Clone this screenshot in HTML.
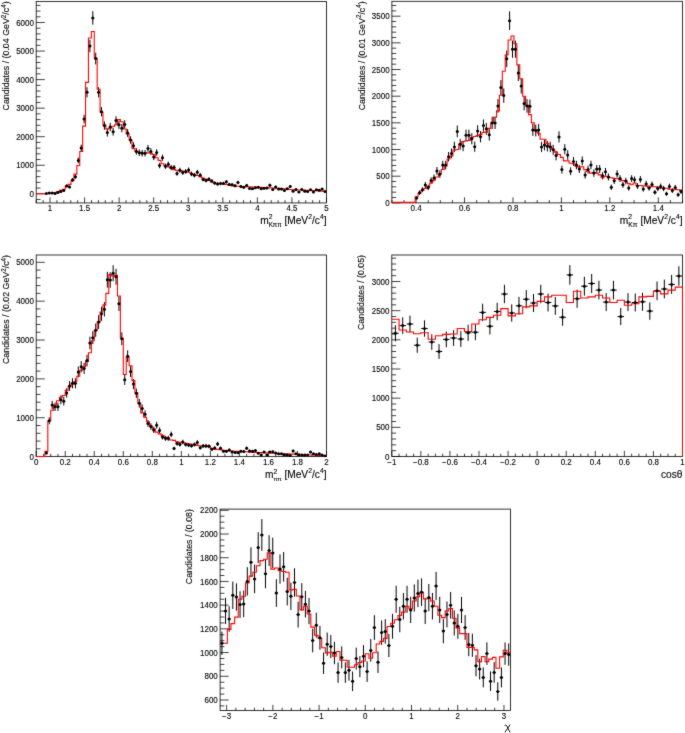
<!DOCTYPE html>
<html><head><meta charset="utf-8"><style>
html,body{margin:0;padding:0;background:#fff;width:685px;height:733px;overflow:hidden}
svg{display:block;will-change:transform}
</style></head><body><div>
<svg width="685" height="733" viewBox="0 0 685 733" font-family="Liberation Sans, sans-serif" fill="#000">
<filter id="bl" x="-1%" y="-1%" width="102%" height="102%" color-interpolation-filters="sRGB"><feConvolveMatrix order="3" kernelMatrix="0.02 0.07 0.02 0.07 0.640 0.07 0.02 0.07 0.02" edgeMode="none" preserveAlpha="false"/></filter>
<g filter="url(#bl)">
<rect x="36.20" y="1.40" width="290.30" height="201.55" fill="none" stroke="#000" stroke-width="0.8"/>
<path d="M36.20 199.51h4.3M36.20 193.80h8.6M36.20 188.09h4.3M36.20 182.38h4.3M36.20 176.67h4.3M36.20 170.96h4.3M36.20 165.25h8.6M36.20 159.54h4.3M36.20 153.83h4.3M36.20 148.12h4.3M36.20 142.41h4.3M36.20 136.70h8.6M36.20 130.99h4.3M36.20 125.28h4.3M36.20 119.57h4.3M36.20 113.86h4.3M36.20 108.15h8.6M36.20 102.44h4.3M36.20 96.73h4.3M36.20 91.02h4.3M36.20 85.31h4.3M36.20 79.60h8.6M36.20 73.89h4.3M36.20 68.18h4.3M36.20 62.47h4.3M36.20 56.76h4.3M36.20 51.05h8.6M36.20 45.34h4.3M36.20 39.63h4.3M36.20 33.92h4.3M36.20 28.21h4.3M36.20 22.50h8.6M36.20 16.79h4.3M36.20 11.08h4.3M36.20 5.37h4.3M36.20 202.95v-2.8M43.11 202.95v-2.8M50.02 202.95v-5.6M56.94 202.95v-2.8M63.85 202.95v-2.8M70.76 202.95v-2.8M77.67 202.95v-2.8M84.58 202.95v-5.6M91.50 202.95v-2.8M98.41 202.95v-2.8M105.32 202.95v-2.8M112.23 202.95v-2.8M119.14 202.95v-5.6M126.05 202.95v-2.8M132.97 202.95v-2.8M139.88 202.95v-2.8M146.79 202.95v-2.8M153.70 202.95v-5.6M160.61 202.95v-2.8M167.53 202.95v-2.8M174.44 202.95v-2.8M181.35 202.95v-2.8M188.26 202.95v-5.6M195.17 202.95v-2.8M202.09 202.95v-2.8M209.00 202.95v-2.8M215.91 202.95v-2.8M222.82 202.95v-5.6M229.73 202.95v-2.8M236.65 202.95v-2.8M243.56 202.95v-2.8M250.47 202.95v-2.8M257.38 202.95v-5.6M264.29 202.95v-2.8M271.20 202.95v-2.8M278.12 202.95v-2.8M285.03 202.95v-2.8M291.94 202.95v-5.6M298.85 202.95v-2.8M305.76 202.95v-2.8M312.68 202.95v-2.8M319.59 202.95v-2.8M326.50 202.95v-5.6" stroke="#000" stroke-width="0.75" fill="none"/>
<rect x="391.90" y="1.30" width="290.60" height="201.60" fill="none" stroke="#000" stroke-width="0.8"/>
<path d="M391.90 202.85h8.6M391.90 197.52h4.3M391.90 192.18h4.3M391.90 186.85h4.3M391.90 181.52h4.3M391.90 176.19h8.6M391.90 170.85h4.3M391.90 165.52h4.3M391.90 160.19h4.3M391.90 154.85h4.3M391.90 149.52h8.6M391.90 144.19h4.3M391.90 138.85h4.3M391.90 133.52h4.3M391.90 128.19h4.3M391.90 122.85h8.6M391.90 117.52h4.3M391.90 112.19h4.3M391.90 106.86h4.3M391.90 101.52h4.3M391.90 96.19h8.6M391.90 90.86h4.3M391.90 85.52h4.3M391.90 80.19h4.3M391.90 74.86h4.3M391.90 69.52h8.6M391.90 64.19h4.3M391.90 58.86h4.3M391.90 53.53h4.3M391.90 48.19h4.3M391.90 42.86h8.6M391.90 37.53h4.3M391.90 32.19h4.3M391.90 26.86h4.3M391.90 21.53h4.3M391.90 16.19h8.6M391.90 10.86h4.3M391.90 5.53h4.3M391.90 202.90v-2.8M404.01 202.90v-2.8M416.12 202.90v-5.6M428.22 202.90v-2.8M440.33 202.90v-2.8M452.44 202.90v-2.8M464.55 202.90v-5.6M476.66 202.90v-2.8M488.77 202.90v-2.8M500.88 202.90v-2.8M512.98 202.90v-5.6M525.09 202.90v-2.8M537.20 202.90v-2.8M549.31 202.90v-2.8M561.42 202.90v-5.6M573.53 202.90v-2.8M585.63 202.90v-2.8M597.74 202.90v-2.8M609.85 202.90v-5.6M621.96 202.90v-2.8M634.07 202.90v-2.8M646.18 202.90v-2.8M658.28 202.90v-5.6M670.39 202.90v-2.8M682.50 202.90v-2.8" stroke="#000" stroke-width="0.75" fill="none"/>
<rect x="36.20" y="255.00" width="290.30" height="201.60" fill="none" stroke="#000" stroke-width="0.8"/>
<path d="M36.20 456.60h8.6M36.20 448.83h4.3M36.20 441.06h4.3M36.20 433.28h4.3M36.20 425.51h4.3M36.20 417.74h8.6M36.20 409.97h4.3M36.20 402.20h4.3M36.20 394.42h4.3M36.20 386.65h4.3M36.20 378.88h8.6M36.20 371.11h4.3M36.20 363.34h4.3M36.20 355.56h4.3M36.20 347.79h4.3M36.20 340.02h8.6M36.20 332.25h4.3M36.20 324.48h4.3M36.20 316.70h4.3M36.20 308.93h4.3M36.20 301.16h8.6M36.20 293.39h4.3M36.20 285.62h4.3M36.20 277.84h4.3M36.20 270.07h4.3M36.20 262.30h8.6M36.20 456.60v-5.6M43.46 456.60v-2.8M50.72 456.60v-2.8M57.97 456.60v-2.8M65.23 456.60v-5.6M72.49 456.60v-2.8M79.75 456.60v-2.8M87.00 456.60v-2.8M94.26 456.60v-5.6M101.52 456.60v-2.8M108.77 456.60v-2.8M116.03 456.60v-2.8M123.29 456.60v-5.6M130.55 456.60v-2.8M137.81 456.60v-2.8M145.06 456.60v-2.8M152.32 456.60v-5.6M159.58 456.60v-2.8M166.84 456.60v-2.8M174.09 456.60v-2.8M181.35 456.60v-5.6M188.61 456.60v-2.8M195.87 456.60v-2.8M203.12 456.60v-2.8M210.38 456.60v-5.6M217.64 456.60v-2.8M224.90 456.60v-2.8M232.15 456.60v-2.8M239.41 456.60v-5.6M246.67 456.60v-2.8M253.93 456.60v-2.8M261.18 456.60v-2.8M268.44 456.60v-5.6M275.70 456.60v-2.8M282.96 456.60v-2.8M290.21 456.60v-2.8M297.47 456.60v-5.6M304.73 456.60v-2.8M311.99 456.60v-2.8M319.24 456.60v-2.8M326.50 456.60v-5.6" stroke="#000" stroke-width="0.75" fill="none"/>
<rect x="391.80" y="255.00" width="290.70" height="201.50" fill="none" stroke="#000" stroke-width="0.8"/>
<path d="M391.80 456.50h8.6M391.80 450.67h4.3M391.80 444.83h4.3M391.80 439.00h4.3M391.80 433.17h4.3M391.80 427.33h8.6M391.80 421.50h4.3M391.80 415.67h4.3M391.80 409.84h4.3M391.80 404.00h4.3M391.80 398.17h8.6M391.80 392.34h4.3M391.80 386.50h4.3M391.80 380.67h4.3M391.80 374.84h4.3M391.80 369.00h8.6M391.80 363.17h4.3M391.80 357.34h4.3M391.80 351.51h4.3M391.80 345.67h4.3M391.80 339.84h8.6M391.80 334.01h4.3M391.80 328.17h4.3M391.80 322.34h4.3M391.80 316.51h4.3M391.80 310.68h8.6M391.80 304.84h4.3M391.80 299.01h4.3M391.80 293.18h4.3M391.80 287.34h4.3M391.80 281.51h8.6M391.80 275.68h4.3M391.80 269.84h4.3M391.80 264.01h4.3M391.80 258.18h4.3M391.80 456.50v-5.6M399.07 456.50v-2.8M406.34 456.50v-2.8M413.60 456.50v-2.8M420.87 456.50v-5.6M428.14 456.50v-2.8M435.41 456.50v-2.8M442.67 456.50v-2.8M449.94 456.50v-5.6M457.21 456.50v-2.8M464.48 456.50v-2.8M471.74 456.50v-2.8M479.01 456.50v-5.6M486.28 456.50v-2.8M493.55 456.50v-2.8M500.81 456.50v-2.8M508.08 456.50v-5.6M515.35 456.50v-2.8M522.62 456.50v-2.8M529.88 456.50v-2.8M537.15 456.50v-5.6M544.42 456.50v-2.8M551.69 456.50v-2.8M558.95 456.50v-2.8M566.22 456.50v-5.6M573.49 456.50v-2.8M580.76 456.50v-2.8M588.02 456.50v-2.8M595.29 456.50v-5.6M602.56 456.50v-2.8M609.83 456.50v-2.8M617.09 456.50v-2.8M624.36 456.50v-5.6M631.63 456.50v-2.8M638.90 456.50v-2.8M646.16 456.50v-2.8M653.43 456.50v-5.6M660.70 456.50v-2.8M667.97 456.50v-2.8M675.23 456.50v-2.8M682.50 456.50v-5.6" stroke="#000" stroke-width="0.75" fill="none"/>
<rect x="220.10" y="509.10" width="290.40" height="201.40" fill="none" stroke="#000" stroke-width="0.8"/>
<path d="M220.10 705.92h4.3M220.10 700.00h8.6M220.10 694.07h4.3M220.10 688.14h4.3M220.10 682.21h4.3M220.10 676.28h8.6M220.10 670.36h4.3M220.10 664.43h4.3M220.10 658.50h4.3M220.10 652.57h8.6M220.10 646.64h4.3M220.10 640.72h4.3M220.10 634.79h4.3M220.10 628.86h8.6M220.10 622.93h4.3M220.10 617.00h4.3M220.10 611.08h4.3M220.10 605.15h8.6M220.10 599.22h4.3M220.10 593.29h4.3M220.10 587.36h4.3M220.10 581.44h8.6M220.10 575.51h4.3M220.10 569.58h4.3M220.10 563.65h4.3M220.10 557.72h8.6M220.10 551.80h4.3M220.10 545.87h4.3M220.10 539.94h4.3M220.10 534.01h8.6M220.10 528.08h4.3M220.10 522.16h4.3M220.10 516.23h4.3M220.10 510.30h8.6M226.64 710.50v-5.6M235.89 710.50v-2.8M245.13 710.50v-2.8M254.38 710.50v-2.8M263.62 710.50v-2.8M272.86 710.50v-5.6M282.11 710.50v-2.8M291.35 710.50v-2.8M300.59 710.50v-2.8M309.84 710.50v-2.8M319.08 710.50v-5.6M328.33 710.50v-2.8M337.57 710.50v-2.8M346.81 710.50v-2.8M356.06 710.50v-2.8M365.30 710.50v-5.6M374.54 710.50v-2.8M383.79 710.50v-2.8M393.03 710.50v-2.8M402.27 710.50v-2.8M411.52 710.50v-5.6M420.76 710.50v-2.8M430.01 710.50v-2.8M439.25 710.50v-2.8M448.49 710.50v-2.8M457.74 710.50v-5.6M466.98 710.50v-2.8M476.22 710.50v-2.8M485.47 710.50v-2.8M494.71 710.50v-2.8M503.96 710.50v-5.6" stroke="#000" stroke-width="0.75" fill="none"/>
<clipPath id="c1"><rect x="35.20" y="1.40" width="292.30" height="202.15"/></clipPath>
<g clip-path="url(#c1)">
<path d="M46.36 193.22V193.78M45.05 193.50H47.67M49.26 192.55V193.45M47.96 193.00H50.57M52.17 192.55V193.45M50.86 193.00H53.47M55.07 193.22V193.78M53.76 193.50H56.38M57.97 192.04V193.16M56.67 192.60H59.28M60.88 190.85V192.35M59.57 191.60H62.18M63.78 189.69V191.51M62.47 190.60H65.08M66.68 184.48V187.32M65.38 185.90H67.99M69.58 185.68V188.32M68.28 187.00H70.89M72.49 178.01V181.79M71.18 179.90H73.79M75.39 174.71V178.89M74.08 176.80H76.70M78.29 157.47V163.33M76.99 160.40H79.60M81.20 144.67V151.53M79.89 148.10H82.50M84.10 114.72V123.48M82.79 119.10H85.41M87.00 87.19V97.41M85.70 92.30H88.31M89.91 39.84V52.16M88.60 46.00H91.21M92.81 11.18V24.62M91.50 17.90H94.11M95.71 52.71V64.49M94.41 58.60H97.02M98.61 87.19V97.41M97.31 92.30H99.92M101.52 107.11V116.29M100.21 111.70H102.82M104.42 121.41V129.79M103.11 125.60H105.73M107.32 128.63V136.57M106.02 132.60H108.63M110.23 122.75V131.05M108.92 126.90H111.53M113.13 127.71V135.69M111.82 131.70H114.44M116.03 116.26V124.94M114.73 120.60H117.34M118.94 120.49V128.91M117.63 124.70H120.24M121.84 124.09V132.31M120.53 128.20H123.14M124.74 120.18V128.62M123.44 124.40H126.05M127.64 129.05V136.95M126.34 133.00H128.95M130.55 136.28V143.72M129.24 140.00H131.85M133.45 142.18V149.22M132.14 145.70H134.76M136.35 148.10V154.70M135.05 151.40H137.66M139.26 149.45V155.95M137.95 152.70H140.56M142.16 149.97V156.43M140.85 153.20H143.47M145.06 149.97V156.43M143.76 153.20H146.37M147.97 144.98V151.82M146.66 148.40H149.27M150.87 148.20V154.80M149.56 151.50H152.17M153.77 153.92V160.08M152.47 157.00H155.08M156.67 149.24V155.76M155.37 152.50H157.98M159.58 162.91V168.29M158.27 165.60H160.88M162.48 154.65V160.75M161.17 157.70H163.79M165.38 163.64V168.96M164.08 166.30H166.69M168.29 161.55V167.05M166.98 164.30H169.59M171.19 165.01V170.19M169.88 167.60H172.50M174.09 165.01V170.19M172.79 167.60H175.40M177.00 171.22V175.78M175.69 173.50H178.30M179.90 167.74V172.66M178.59 170.20H181.20M182.80 170.27V174.93M181.50 172.60H184.11M185.70 169.11V173.89M184.40 171.50H187.01M188.61 167.53V172.47M187.30 170.00H189.91M191.51 171.64V176.16M190.20 173.90H192.82M194.41 173.01V177.39M193.11 175.20H195.72M197.32 169.84V174.56M196.01 172.20H198.62M200.22 173.01V177.39M198.91 175.20H201.53M203.12 177.48V181.32M201.82 179.40H204.43M206.03 178.65V182.35M204.72 180.50H207.33M208.93 177.26V181.14M207.62 179.20H210.23M211.83 179.19V182.81M210.53 181.00H213.14M214.73 181.44V184.76M213.43 183.10H216.04M217.64 182.41V185.59M216.33 184.00H218.94M220.54 181.98V185.22M219.23 183.60H221.85M223.44 181.77V185.03M222.14 183.40H224.75M226.35 180.04V183.56M225.04 181.80H227.65M229.25 182.85V185.95M227.94 184.40H230.56M232.15 183.17V186.23M230.85 184.70H233.46M235.06 184.26V187.14M233.75 185.70H236.36M237.96 180.80V184.20M236.65 182.50H239.26M240.86 185.02V187.78M239.56 186.40H242.17M243.76 186.01V188.59M242.46 187.30H245.07M246.67 183.93V186.87M245.36 185.40H247.97M249.57 187.22V189.58M248.26 188.40H250.88M252.47 187.56V189.84M251.17 188.70H253.78M255.38 186.45V188.95M254.07 187.70H256.68M258.28 186.01V188.59M256.97 187.30H259.59M261.18 187.56V189.84M259.88 188.70H262.49M264.09 187.11V189.49M262.78 188.30H265.39M266.99 186.78V189.22M265.68 188.00H268.29M269.89 183.71V186.69M268.59 185.20H271.20M272.79 188.45V190.55M271.49 189.50H274.10M275.70 185.68V188.32M274.39 187.00H277.00M278.60 188.00V190.20M277.29 189.10H279.91M281.50 188.00V190.20M280.20 189.10H282.81M284.41 189.58V191.42M283.10 190.50H285.71M287.31 187.67V189.93M286.00 188.80H288.62M290.21 185.02V187.78M288.91 186.40H291.52M293.12 190.38V192.02M291.81 191.20H294.42M296.02 188.34V190.46M294.71 189.40H297.32M298.92 191.20V192.60M297.62 191.90H300.23M301.82 188.45V190.55M300.52 189.50H303.13M304.73 190.38V192.02M303.42 191.20H306.03M307.63 190.85V192.35M306.32 191.60H308.94M310.53 188.79V190.81M309.23 189.80H311.84M313.44 191.20V192.60M312.13 191.90H314.74M316.34 188.79V190.81M315.03 189.80H317.65M319.24 189.24V191.16M317.94 190.20H320.55M322.15 188.00V190.20M320.84 189.10H323.45M325.05 190.85V192.35M323.74 191.60H326.35" stroke="#000" stroke-width="1.0" fill="none"/>
<path d="M36.20 193.80H39.10V193.80H42.01V193.80H44.91V193.50H47.81V193.30H50.72V193.00H53.62V192.50H56.52V191.60H59.42V190.20H62.33V189.20H65.23V186.40H68.13V184.40H71.04V180.60H73.94V174.10H76.84V165.50H79.75V151.50H82.65V126.10H85.55V82.40H88.45V38.00H91.36V31.50H94.26V58.30H97.16V89.30H100.07V112.20H102.97V125.10H105.87V128.90H108.78V128.00H111.68V126.30H114.58V124.70H117.48V119.50H120.39V121.80H123.29V129.00H126.19V133.90H129.10V140.00H132.00V148.40H134.90V151.40H137.81V152.30H140.71V153.00H143.61V153.00H146.51V152.90H149.42V153.30H152.32V154.50H155.22V157.70H158.13V160.40H161.03V163.70H163.93V165.60H166.83V166.90H169.74V168.20H172.64V169.60H175.54V170.20H178.45V170.70H181.35V171.20H184.25V171.70H187.16V172.20H190.06V173.50H192.96V174.50H195.87V175.50H198.77V176.80H201.67V178.30H204.57V179.40H207.48V180.50H210.38V182.00H213.28V183.20H216.19V183.40H219.09V183.40H221.99V183.80H224.89V184.50H227.80V185.30H230.70V185.70H233.60V186.10H236.51V186.30H239.41V186.44H242.31V186.58H245.22V186.72H248.12V186.86H251.02V187.00H253.93V187.14H256.83V187.28H259.73V187.42H262.63V187.56H265.54V187.70H268.44V187.88H271.34V188.05H274.25V188.22H277.15V188.40H280.05V188.63H282.95V188.87H285.86V189.10H288.76V189.45H291.66V189.80H294.57V189.88H297.47V189.96H300.37V190.04H303.28V190.12H306.18V190.20H309.08V190.40H311.99V190.60H314.89V190.80H317.79V190.97H320.69V191.13H323.60V191.30H326.50" stroke="#f00" stroke-width="1.1" fill="none"/>
<circle cx="46.36" cy="193.50" r="1.5"/>
<circle cx="49.26" cy="193.00" r="1.5"/>
<circle cx="52.17" cy="193.00" r="1.5"/>
<circle cx="55.07" cy="193.50" r="1.5"/>
<circle cx="57.97" cy="192.60" r="1.5"/>
<circle cx="60.88" cy="191.60" r="1.5"/>
<circle cx="63.78" cy="190.60" r="1.5"/>
<circle cx="66.68" cy="185.90" r="1.5"/>
<circle cx="69.58" cy="187.00" r="1.5"/>
<circle cx="72.49" cy="179.90" r="1.5"/>
<circle cx="75.39" cy="176.80" r="1.5"/>
<circle cx="78.29" cy="160.40" r="1.5"/>
<circle cx="81.20" cy="148.10" r="1.5"/>
<circle cx="84.10" cy="119.10" r="1.5"/>
<circle cx="87.00" cy="92.30" r="1.5"/>
<circle cx="89.91" cy="46.00" r="1.5"/>
<circle cx="92.81" cy="17.90" r="1.5"/>
<circle cx="95.71" cy="58.60" r="1.5"/>
<circle cx="98.61" cy="92.30" r="1.5"/>
<circle cx="101.52" cy="111.70" r="1.5"/>
<circle cx="104.42" cy="125.60" r="1.5"/>
<circle cx="107.32" cy="132.60" r="1.5"/>
<circle cx="110.23" cy="126.90" r="1.5"/>
<circle cx="113.13" cy="131.70" r="1.5"/>
<circle cx="116.03" cy="120.60" r="1.5"/>
<circle cx="118.94" cy="124.70" r="1.5"/>
<circle cx="121.84" cy="128.20" r="1.5"/>
<circle cx="124.74" cy="124.40" r="1.5"/>
<circle cx="127.64" cy="133.00" r="1.5"/>
<circle cx="130.55" cy="140.00" r="1.5"/>
<circle cx="133.45" cy="145.70" r="1.5"/>
<circle cx="136.35" cy="151.40" r="1.5"/>
<circle cx="139.26" cy="152.70" r="1.5"/>
<circle cx="142.16" cy="153.20" r="1.5"/>
<circle cx="145.06" cy="153.20" r="1.5"/>
<circle cx="147.97" cy="148.40" r="1.5"/>
<circle cx="150.87" cy="151.50" r="1.5"/>
<circle cx="153.77" cy="157.00" r="1.5"/>
<circle cx="156.67" cy="152.50" r="1.5"/>
<circle cx="159.58" cy="165.60" r="1.5"/>
<circle cx="162.48" cy="157.70" r="1.5"/>
<circle cx="165.38" cy="166.30" r="1.5"/>
<circle cx="168.29" cy="164.30" r="1.5"/>
<circle cx="171.19" cy="167.60" r="1.5"/>
<circle cx="174.09" cy="167.60" r="1.5"/>
<circle cx="177.00" cy="173.50" r="1.5"/>
<circle cx="179.90" cy="170.20" r="1.5"/>
<circle cx="182.80" cy="172.60" r="1.5"/>
<circle cx="185.70" cy="171.50" r="1.5"/>
<circle cx="188.61" cy="170.00" r="1.5"/>
<circle cx="191.51" cy="173.90" r="1.5"/>
<circle cx="194.41" cy="175.20" r="1.5"/>
<circle cx="197.32" cy="172.20" r="1.5"/>
<circle cx="200.22" cy="175.20" r="1.5"/>
<circle cx="203.12" cy="179.40" r="1.5"/>
<circle cx="206.03" cy="180.50" r="1.5"/>
<circle cx="208.93" cy="179.20" r="1.5"/>
<circle cx="211.83" cy="181.00" r="1.5"/>
<circle cx="214.73" cy="183.10" r="1.5"/>
<circle cx="217.64" cy="184.00" r="1.5"/>
<circle cx="220.54" cy="183.60" r="1.5"/>
<circle cx="223.44" cy="183.40" r="1.5"/>
<circle cx="226.35" cy="181.80" r="1.5"/>
<circle cx="229.25" cy="184.40" r="1.5"/>
<circle cx="232.15" cy="184.70" r="1.5"/>
<circle cx="235.06" cy="185.70" r="1.5"/>
<circle cx="237.96" cy="182.50" r="1.5"/>
<circle cx="240.86" cy="186.40" r="1.5"/>
<circle cx="243.76" cy="187.30" r="1.5"/>
<circle cx="246.67" cy="185.40" r="1.5"/>
<circle cx="249.57" cy="188.40" r="1.5"/>
<circle cx="252.47" cy="188.70" r="1.5"/>
<circle cx="255.38" cy="187.70" r="1.5"/>
<circle cx="258.28" cy="187.30" r="1.5"/>
<circle cx="261.18" cy="188.70" r="1.5"/>
<circle cx="264.09" cy="188.30" r="1.5"/>
<circle cx="266.99" cy="188.00" r="1.5"/>
<circle cx="269.89" cy="185.20" r="1.5"/>
<circle cx="272.79" cy="189.50" r="1.5"/>
<circle cx="275.70" cy="187.00" r="1.5"/>
<circle cx="278.60" cy="189.10" r="1.5"/>
<circle cx="281.50" cy="189.10" r="1.5"/>
<circle cx="284.41" cy="190.50" r="1.5"/>
<circle cx="287.31" cy="188.80" r="1.5"/>
<circle cx="290.21" cy="186.40" r="1.5"/>
<circle cx="293.12" cy="191.20" r="1.5"/>
<circle cx="296.02" cy="189.40" r="1.5"/>
<circle cx="298.92" cy="191.90" r="1.5"/>
<circle cx="301.82" cy="189.50" r="1.5"/>
<circle cx="304.73" cy="191.20" r="1.5"/>
<circle cx="307.63" cy="191.60" r="1.5"/>
<circle cx="310.53" cy="189.80" r="1.5"/>
<circle cx="313.44" cy="191.90" r="1.5"/>
<circle cx="316.34" cy="189.80" r="1.5"/>
<circle cx="319.24" cy="190.20" r="1.5"/>
<circle cx="322.15" cy="189.10" r="1.5"/>
<circle cx="325.05" cy="191.60" r="1.5"/>
</g>
<clipPath id="c2"><rect x="390.90" y="1.30" width="292.60" height="202.20"/></clipPath>
<g clip-path="url(#c2)">
<path d="M416.60 196.36V199.44M415.29 197.90H417.91M419.51 190.49V194.91M418.20 192.70H420.81M422.41 187.19V192.21M421.11 189.70H423.72M425.32 181.96V187.84M424.01 184.90H426.63M428.22 184.79V190.21M426.92 187.50H429.53M431.13 177.33V183.87M429.82 180.60H432.44M434.04 174.55V181.45M432.73 178.00H435.34M436.94 166.98V174.82M435.64 170.90H438.25M439.85 170.49V177.91M438.54 174.20H441.16M442.75 160.84V169.36M441.45 165.10H444.06M445.66 160.84V169.36M444.35 165.10H446.97M448.57 151.99V161.41M447.26 156.70H449.87M451.47 148.53V158.27M450.17 153.40H452.78M454.38 141.72V152.08M453.07 146.90H455.69M457.28 125.54V137.26M455.98 131.40H458.59M460.19 139.00V149.60M458.88 144.30H461.50M463.10 140.78V151.22M461.79 146.00H464.40M466.00 129.61V140.99M464.70 135.30H467.31M468.91 129.61V140.99M467.60 135.30H470.22M471.81 133.26V144.34M470.51 138.80H473.12M474.72 141.51V151.89M473.41 146.70H476.03M477.63 125.23V136.97M476.32 131.10H478.93M480.53 131.07V142.33M479.23 136.70H481.84M483.44 119.51V131.69M482.13 125.60H484.75M486.34 122.84V134.76M485.04 128.80H487.65M489.25 129.08V140.52M487.94 134.80H490.56M492.16 116.71V129.09M490.85 122.90H493.46M495.06 116.71V129.09M493.76 122.90H496.37M497.97 99.08V112.72M496.66 105.90H499.28M500.88 80.06V94.94M499.57 87.50H502.18M503.78 88.43V102.77M502.47 95.60H505.09M506.69 50.48V67.12M505.38 58.80H507.99M509.59 11.35V30.05M508.29 20.70H510.90M512.50 40.61V57.79M511.19 49.20H513.81M515.40 40.61V57.79M514.10 49.20H516.71M518.31 65.21V80.99M517.00 73.10H519.62M521.22 78.51V93.49M519.91 86.00H522.52M524.12 96.59V110.41M522.82 103.50H525.43M527.03 99.08V112.72M525.72 105.90H528.34M529.93 99.49V113.11M528.63 106.30H531.24M532.84 123.98V135.82M531.53 129.90H534.15M535.75 124.61V136.39M534.44 130.50H537.05M538.65 123.98V135.82M537.35 129.90H539.96M541.56 141.72V152.08M540.25 146.90H542.87M544.46 139.84V150.36M543.16 145.10H545.77M547.37 141.09V151.51M546.06 146.30H548.68M550.28 141.72V152.08M548.97 146.90H551.58M553.18 144.75V154.85M551.88 149.80H554.49M556.09 150.84V160.36M554.78 155.60H557.40M559.00 131.27V142.53M557.69 136.90H560.30M561.90 165.61V173.59M560.59 169.60H563.21M564.81 144.13V154.27M563.50 149.20H566.11M567.71 150.21V159.79M566.41 155.00H569.02M570.62 167.30V175.10M569.31 171.20H571.93M573.52 157.05V165.95M572.22 161.50H574.83M576.43 160.74V169.26M575.12 165.00H577.74M579.34 164.97V173.03M578.03 169.00H580.64M582.24 156.41V165.39M580.94 160.90H583.55M585.15 171.24V178.56M583.84 174.90H586.46M588.05 165.61V173.59M586.75 169.60H589.36M590.96 160.74V169.26M589.65 165.00H592.27M593.87 169.32V176.88M592.56 173.10H595.17M596.77 164.97V173.03M595.47 169.00H598.08M599.68 164.97V173.03M598.37 169.00H600.99M602.59 172.20V179.40M601.28 175.80H603.89M605.49 167.94V175.66M604.18 171.80H606.80M608.40 173.48V180.52M607.09 177.00H609.70M611.30 184.57V190.03M610.00 187.30H612.61M614.21 177.55V184.05M612.90 180.80H615.52M617.12 170.17V177.63M615.81 173.90H618.42M620.02 175.19V182.01M618.71 178.60H621.33M622.93 181.86V187.74M621.62 184.80H624.23M625.83 177.76V184.24M624.53 181.00H627.14M628.74 185.33V190.67M627.43 188.00H630.05M631.64 175.19V182.01M630.34 178.60H632.95M634.55 176.47V183.13M633.24 179.80H635.86M637.46 183.16V188.84M636.15 186.00H638.76M640.36 176.05V182.75M639.06 179.40H641.67M643.27 186.53V191.67M641.96 189.10H644.58M646.17 180.88V186.92M644.87 183.90H647.48M649.08 185.33V190.67M647.77 188.00H650.39M651.99 181.53V187.47M650.68 184.50H653.29M654.89 190.05V194.55M653.59 192.30H656.20M657.80 185.88V191.12M656.49 188.50H659.11M660.70 183.59V189.21M659.40 186.40H662.01M663.61 185.88V191.12M662.30 188.50H664.92M666.52 191.72V195.88M665.21 193.80H667.82M669.42 183.59V189.21M668.12 186.40H670.73M672.33 188.18V193.02M671.02 190.60H673.64M675.24 184.89V190.31M673.93 187.60H676.54M678.14 192.72V196.68M676.83 194.70H679.45M681.05 189.17V193.83M679.74 191.50H682.35" stroke="#000" stroke-width="1.0" fill="none"/>
<path d="M391.90 202.40H394.81V202.40H397.71V202.40H400.62V202.40H403.52V202.40H406.43V202.40H409.34V202.40H412.24V202.40H415.15V196.80H418.05V193.50H420.96V190.50H423.87V188.50H426.77V186.50H429.68V183.00H432.58V180.00H435.49V177.00H438.40V173.50H441.30V169.50H444.21V166.00H447.11V159.00H450.02V156.00H452.93V150.00H455.83V149.50H458.74V144.00H461.64V141.50H464.55V141.00H467.46V140.50H470.36V137.60H473.27V136.50H476.17V135.50H479.08V134.50H481.99V132.50H484.89V132.10H487.80V128.40H490.70V122.90H493.61V117.30H496.52V110.90H499.42V95.20H502.33V71.30H505.23V54.70H508.14V40.00H511.05V36.00H513.95V43.70H516.86V64.90H519.76V78.70H522.67V96.20H525.58V105.40H528.48V114.60H531.39V122.90H534.29V130.20H537.20V133.20H540.11V139.30H543.01V139.30H545.92V143.40H548.82V146.30H551.73V149.20H554.64V152.10H557.54V154.50H560.45V157.40H563.35V160.90H566.26V160.90H569.17V163.20H572.07V163.80H574.98V166.10H577.88V167.30H580.79V166.70H583.70V169.60H586.60V171.40H589.51V173.10H592.41V172.60H595.32V173.10H598.23V174.90H601.13V177.80H604.04V176.30H606.94V177.00H609.85V177.80H612.76V178.50H615.66V178.80H618.57V179.60H621.47V180.60H624.38V181.00H627.29V183.60H630.19V184.80H633.10V183.00H636.00V185.50H638.91V185.50H641.82V185.90H644.72V186.00H647.63V187.40H650.53V186.20H653.44V186.80H656.35V187.50H659.25V188.00H662.16V188.00H665.06V188.20H667.97V189.20H670.88V189.20H673.78V189.20H676.69V189.70H679.59V190.50H682.50" stroke="#f00" stroke-width="1.1" fill="none"/>
<circle cx="416.60" cy="197.90" r="1.5"/>
<circle cx="419.51" cy="192.70" r="1.5"/>
<circle cx="422.41" cy="189.70" r="1.5"/>
<circle cx="425.32" cy="184.90" r="1.5"/>
<circle cx="428.22" cy="187.50" r="1.5"/>
<circle cx="431.13" cy="180.60" r="1.5"/>
<circle cx="434.04" cy="178.00" r="1.5"/>
<circle cx="436.94" cy="170.90" r="1.5"/>
<circle cx="439.85" cy="174.20" r="1.5"/>
<circle cx="442.75" cy="165.10" r="1.5"/>
<circle cx="445.66" cy="165.10" r="1.5"/>
<circle cx="448.57" cy="156.70" r="1.5"/>
<circle cx="451.47" cy="153.40" r="1.5"/>
<circle cx="454.38" cy="146.90" r="1.5"/>
<circle cx="457.28" cy="131.40" r="1.5"/>
<circle cx="460.19" cy="144.30" r="1.5"/>
<circle cx="463.10" cy="146.00" r="1.5"/>
<circle cx="466.00" cy="135.30" r="1.5"/>
<circle cx="468.91" cy="135.30" r="1.5"/>
<circle cx="471.81" cy="138.80" r="1.5"/>
<circle cx="474.72" cy="146.70" r="1.5"/>
<circle cx="477.63" cy="131.10" r="1.5"/>
<circle cx="480.53" cy="136.70" r="1.5"/>
<circle cx="483.44" cy="125.60" r="1.5"/>
<circle cx="486.34" cy="128.80" r="1.5"/>
<circle cx="489.25" cy="134.80" r="1.5"/>
<circle cx="492.16" cy="122.90" r="1.5"/>
<circle cx="495.06" cy="122.90" r="1.5"/>
<circle cx="497.97" cy="105.90" r="1.5"/>
<circle cx="500.88" cy="87.50" r="1.5"/>
<circle cx="503.78" cy="95.60" r="1.5"/>
<circle cx="506.69" cy="58.80" r="1.5"/>
<circle cx="509.59" cy="20.70" r="1.5"/>
<circle cx="512.50" cy="49.20" r="1.5"/>
<circle cx="515.40" cy="49.20" r="1.5"/>
<circle cx="518.31" cy="73.10" r="1.5"/>
<circle cx="521.22" cy="86.00" r="1.5"/>
<circle cx="524.12" cy="103.50" r="1.5"/>
<circle cx="527.03" cy="105.90" r="1.5"/>
<circle cx="529.93" cy="106.30" r="1.5"/>
<circle cx="532.84" cy="129.90" r="1.5"/>
<circle cx="535.75" cy="130.50" r="1.5"/>
<circle cx="538.65" cy="129.90" r="1.5"/>
<circle cx="541.56" cy="146.90" r="1.5"/>
<circle cx="544.46" cy="145.10" r="1.5"/>
<circle cx="547.37" cy="146.30" r="1.5"/>
<circle cx="550.28" cy="146.90" r="1.5"/>
<circle cx="553.18" cy="149.80" r="1.5"/>
<circle cx="556.09" cy="155.60" r="1.5"/>
<circle cx="559.00" cy="136.90" r="1.5"/>
<circle cx="561.90" cy="169.60" r="1.5"/>
<circle cx="564.81" cy="149.20" r="1.5"/>
<circle cx="567.71" cy="155.00" r="1.5"/>
<circle cx="570.62" cy="171.20" r="1.5"/>
<circle cx="573.52" cy="161.50" r="1.5"/>
<circle cx="576.43" cy="165.00" r="1.5"/>
<circle cx="579.34" cy="169.00" r="1.5"/>
<circle cx="582.24" cy="160.90" r="1.5"/>
<circle cx="585.15" cy="174.90" r="1.5"/>
<circle cx="588.05" cy="169.60" r="1.5"/>
<circle cx="590.96" cy="165.00" r="1.5"/>
<circle cx="593.87" cy="173.10" r="1.5"/>
<circle cx="596.77" cy="169.00" r="1.5"/>
<circle cx="599.68" cy="169.00" r="1.5"/>
<circle cx="602.59" cy="175.80" r="1.5"/>
<circle cx="605.49" cy="171.80" r="1.5"/>
<circle cx="608.40" cy="177.00" r="1.5"/>
<circle cx="611.30" cy="187.30" r="1.5"/>
<circle cx="614.21" cy="180.80" r="1.5"/>
<circle cx="617.12" cy="173.90" r="1.5"/>
<circle cx="620.02" cy="178.60" r="1.5"/>
<circle cx="622.93" cy="184.80" r="1.5"/>
<circle cx="625.83" cy="181.00" r="1.5"/>
<circle cx="628.74" cy="188.00" r="1.5"/>
<circle cx="631.64" cy="178.60" r="1.5"/>
<circle cx="634.55" cy="179.80" r="1.5"/>
<circle cx="637.46" cy="186.00" r="1.5"/>
<circle cx="640.36" cy="179.40" r="1.5"/>
<circle cx="643.27" cy="189.10" r="1.5"/>
<circle cx="646.17" cy="183.90" r="1.5"/>
<circle cx="649.08" cy="188.00" r="1.5"/>
<circle cx="651.99" cy="184.50" r="1.5"/>
<circle cx="654.89" cy="192.30" r="1.5"/>
<circle cx="657.80" cy="188.50" r="1.5"/>
<circle cx="660.70" cy="186.40" r="1.5"/>
<circle cx="663.61" cy="188.50" r="1.5"/>
<circle cx="666.52" cy="193.80" r="1.5"/>
<circle cx="669.42" cy="186.40" r="1.5"/>
<circle cx="672.33" cy="190.60" r="1.5"/>
<circle cx="675.24" cy="187.60" r="1.5"/>
<circle cx="678.14" cy="194.70" r="1.5"/>
<circle cx="681.05" cy="191.50" r="1.5"/>
</g>
<clipPath id="c3"><rect x="35.20" y="255.00" width="292.30" height="202.20"/></clipPath>
<g clip-path="url(#c3)">
<path d="M46.36 451.99V454.21M45.05 453.10H47.67M49.26 417.26V424.34M47.96 420.80H50.57M52.17 400.86V409.34M50.86 405.10H53.47M55.07 402.63V410.97M53.76 406.80H56.38M57.97 402.63V410.97M56.67 406.80H59.28M60.88 395.34V404.26M59.57 399.80H62.18M63.78 396.80V405.60M62.47 401.20H65.08M66.68 388.18V397.62M65.38 392.90H67.99M69.58 380.93V390.87M68.28 385.90H70.89M72.49 378.24V388.36M71.18 383.30H73.79M75.39 378.24V388.36M74.08 383.30H76.70M78.29 366.46V377.34M76.99 371.90H79.60M81.20 361.09V372.31M79.89 366.70H82.50M84.10 362.85V373.95M82.79 368.40H85.41M87.00 354.81V366.39M85.70 360.60H88.31M89.91 336.70V349.30M88.60 343.00H91.21M92.81 331.25V344.15M91.50 337.70H94.11M95.71 323.55V336.85M94.41 330.20H97.02M98.61 315.24V328.96M97.31 322.10H99.92M101.52 306.73V320.87M100.21 313.80H102.82M104.42 302.12V316.48M103.11 309.30H105.73M107.32 271.83V287.57M106.02 279.70H108.63M110.23 272.14V287.86M108.92 280.00H111.53M113.13 265.19V281.21M111.82 273.20H114.44M116.03 268.87V284.73M114.73 276.80H117.34M118.94 296.39V311.01M117.63 303.70H120.24M121.84 332.28V345.12M120.53 338.70H123.14M124.74 374.62V384.98M123.44 379.80H126.05M127.64 350.27V362.13M126.34 356.20H128.95M130.55 366.15V377.05M129.24 371.60H131.85M133.45 379.06V389.14M132.14 384.10H134.76M136.35 388.49V397.91M135.05 393.20H137.66M139.26 398.98V407.62M137.95 403.30H140.56M142.16 404.50V412.70M140.85 408.60H143.47M145.06 410.35V418.05M143.76 414.20H146.37M147.97 419.99V426.81M146.66 423.40H149.27M150.87 423.36V429.84M149.56 426.60H152.17M153.77 426.84V432.96M152.47 429.90H155.08M156.67 421.89V428.51M155.37 425.20H157.98M159.58 427.37V433.43M158.27 430.40H160.88M162.48 434.28V439.52M161.17 436.90H163.79M165.38 435.77V440.83M164.08 438.30H166.69M168.29 435.77V440.83M166.98 438.30H169.59M171.19 431.61V437.19M169.88 434.40H172.50M174.09 446.71V450.09M172.79 448.40H175.40M177.00 441.36V445.64M175.69 443.50H178.30M179.90 442.33V446.47M178.59 444.40H181.20M182.80 439.74V444.26M181.50 442.00H184.11M185.70 442.44V446.56M184.40 444.50H187.01M188.61 443.09V447.11M187.30 445.10H189.91M191.51 443.75V447.65M190.20 445.70H192.82M194.41 442.44V446.56M193.11 444.50H195.72M197.32 440.17V444.63M196.01 442.40H198.62M200.22 446.05V449.55M198.91 447.80H201.53M203.12 443.97V447.83M201.82 445.90H204.43M206.03 443.97V447.83M204.72 445.90H207.33M208.93 444.40V448.20M207.62 446.30H210.23M211.83 447.59V450.81M210.53 449.20H213.14M214.73 446.27V449.73M213.43 448.00H216.04M217.64 441.79V446.01M216.33 443.90H218.94M220.54 446.60V450.00M219.23 448.30H221.85M223.44 449.94V452.66M222.14 451.30H224.75M226.35 449.94V452.66M225.04 451.30H227.65M229.25 448.59V451.61M227.94 450.10H230.56M232.15 450.85V453.35M230.85 452.10H233.46M235.06 451.30V453.70M233.75 452.50H236.36M237.96 451.53V453.87M236.65 452.70H239.26M240.86 449.94V452.66M239.56 451.30H242.17M243.76 450.16V452.84M242.46 451.50H245.07M246.67 446.60V450.00M245.36 448.30H247.97M249.57 449.60V452.40M248.26 451.00H250.88M252.47 449.94V452.66M251.17 451.30H253.78M255.38 449.15V452.05M254.07 450.60H256.68M258.28 452.21V454.36M256.97 453.28H259.59M261.18 454.30V455.78M259.88 455.04H262.49M264.09 450.86V453.37M262.78 452.12H265.39M266.99 454.30V455.78M265.68 455.04H268.29M269.89 450.86V453.37M268.59 452.12H271.20M272.79 450.47V453.07M271.49 451.77H274.10M275.70 451.94V454.17M274.39 453.05H277.00M278.60 452.89V454.85M277.29 453.87H279.91M281.50 452.89V454.85M280.20 453.87H282.81M284.41 454.01V455.60M283.10 454.80H285.71M287.31 454.30V455.78M286.00 455.04H288.62M290.21 455.04V456.21M288.91 455.62H291.52M293.12 449.54V452.35M291.81 450.95H294.42M296.02 452.89V454.85M294.71 453.87H297.32M298.92 454.01V455.60M297.62 454.80H300.23M301.82 454.30V455.78M300.52 455.04H303.13M304.73 454.30V455.78M303.42 455.04H306.03M307.63 454.30V455.78M306.32 455.04H308.94M310.53 450.86V453.37M309.23 452.12H311.84M313.44 452.89V454.85M312.13 453.87H314.74M316.34 453.59V455.32M315.03 454.45H317.65M319.24 452.89V454.85M317.94 453.87H320.55M322.15 454.30V455.78M320.84 455.04H323.45M325.05 455.54V456.46M323.74 456.00H326.35" stroke="#000" stroke-width="1.0" fill="none"/>
<path d="M36.20 456.50H39.10V456.50H42.01V456.50H44.91V451.40H47.81V420.80H50.72V410.30H53.62V405.10H56.52V400.70H59.42V397.20H62.33V395.50H65.23V390.20H68.13V386.70H71.04V384.10H73.94V381.50H76.84V376.30H79.75V370.20H82.65V366.70H85.55V361.40H88.45V352.70H91.36V340.80H94.26V330.50H97.16V322.10H100.07V312.00H102.97V304.90H105.87V293.40H108.78V274.60H111.68V276.00H114.58V275.20H117.48V296.00H120.39V338.30H123.29V374.50H126.19V357.10H129.10V365.80H132.00V380.60H134.90V392.90H137.81V403.30H140.71V412.90H143.61V417.30H146.51V421.70H149.42V426.00H152.32V428.70H155.22V432.10H158.13V433.90H161.03V435.60H163.93V437.40H166.83V439.10H169.74V440.00H172.64V440.40H175.54V441.80H178.45V442.40H181.35V442.80H184.25V443.20H187.16V443.80H190.06V444.20H192.96V444.50H195.87V445.40H198.77V445.70H201.67V445.90H204.57V446.10H207.48V446.30H210.38V448.60H213.28V449.00H216.19V449.40H219.09V449.80H221.99V450.40H224.89V450.60H227.80V450.80H230.70V451.00H233.60V451.20H236.51V451.40H239.41V451.50H242.31V451.60H245.22V451.80H248.12V452.10H251.02V452.23H253.93V452.37H256.83V452.50H259.73V452.64H262.63V452.77H265.54V452.91H268.44V453.04H271.34V453.18H274.25V453.31H277.15V453.45H280.05V453.58H282.95V453.72H285.86V453.85H288.76V453.98H291.66V454.12H294.57V454.25H297.47V454.39H300.37V454.52H303.28V454.66H306.18V454.79H309.08V454.93H311.99V455.06H314.89V455.20H317.79V455.33H320.69V455.47H323.60V455.60H326.50" stroke="#f00" stroke-width="1.1" fill="none"/>
<circle cx="46.36" cy="453.10" r="1.5"/>
<circle cx="49.26" cy="420.80" r="1.5"/>
<circle cx="52.17" cy="405.10" r="1.5"/>
<circle cx="55.07" cy="406.80" r="1.5"/>
<circle cx="57.97" cy="406.80" r="1.5"/>
<circle cx="60.88" cy="399.80" r="1.5"/>
<circle cx="63.78" cy="401.20" r="1.5"/>
<circle cx="66.68" cy="392.90" r="1.5"/>
<circle cx="69.58" cy="385.90" r="1.5"/>
<circle cx="72.49" cy="383.30" r="1.5"/>
<circle cx="75.39" cy="383.30" r="1.5"/>
<circle cx="78.29" cy="371.90" r="1.5"/>
<circle cx="81.20" cy="366.70" r="1.5"/>
<circle cx="84.10" cy="368.40" r="1.5"/>
<circle cx="87.00" cy="360.60" r="1.5"/>
<circle cx="89.91" cy="343.00" r="1.5"/>
<circle cx="92.81" cy="337.70" r="1.5"/>
<circle cx="95.71" cy="330.20" r="1.5"/>
<circle cx="98.61" cy="322.10" r="1.5"/>
<circle cx="101.52" cy="313.80" r="1.5"/>
<circle cx="104.42" cy="309.30" r="1.5"/>
<circle cx="107.32" cy="279.70" r="1.5"/>
<circle cx="110.23" cy="280.00" r="1.5"/>
<circle cx="113.13" cy="273.20" r="1.5"/>
<circle cx="116.03" cy="276.80" r="1.5"/>
<circle cx="118.94" cy="303.70" r="1.5"/>
<circle cx="121.84" cy="338.70" r="1.5"/>
<circle cx="124.74" cy="379.80" r="1.5"/>
<circle cx="127.64" cy="356.20" r="1.5"/>
<circle cx="130.55" cy="371.60" r="1.5"/>
<circle cx="133.45" cy="384.10" r="1.5"/>
<circle cx="136.35" cy="393.20" r="1.5"/>
<circle cx="139.26" cy="403.30" r="1.5"/>
<circle cx="142.16" cy="408.60" r="1.5"/>
<circle cx="145.06" cy="414.20" r="1.5"/>
<circle cx="147.97" cy="423.40" r="1.5"/>
<circle cx="150.87" cy="426.60" r="1.5"/>
<circle cx="153.77" cy="429.90" r="1.5"/>
<circle cx="156.67" cy="425.20" r="1.5"/>
<circle cx="159.58" cy="430.40" r="1.5"/>
<circle cx="162.48" cy="436.90" r="1.5"/>
<circle cx="165.38" cy="438.30" r="1.5"/>
<circle cx="168.29" cy="438.30" r="1.5"/>
<circle cx="171.19" cy="434.40" r="1.5"/>
<circle cx="174.09" cy="448.40" r="1.5"/>
<circle cx="177.00" cy="443.50" r="1.5"/>
<circle cx="179.90" cy="444.40" r="1.5"/>
<circle cx="182.80" cy="442.00" r="1.5"/>
<circle cx="185.70" cy="444.50" r="1.5"/>
<circle cx="188.61" cy="445.10" r="1.5"/>
<circle cx="191.51" cy="445.70" r="1.5"/>
<circle cx="194.41" cy="444.50" r="1.5"/>
<circle cx="197.32" cy="442.40" r="1.5"/>
<circle cx="200.22" cy="447.80" r="1.5"/>
<circle cx="203.12" cy="445.90" r="1.5"/>
<circle cx="206.03" cy="445.90" r="1.5"/>
<circle cx="208.93" cy="446.30" r="1.5"/>
<circle cx="211.83" cy="449.20" r="1.5"/>
<circle cx="214.73" cy="448.00" r="1.5"/>
<circle cx="217.64" cy="443.90" r="1.5"/>
<circle cx="220.54" cy="448.30" r="1.5"/>
<circle cx="223.44" cy="451.30" r="1.5"/>
<circle cx="226.35" cy="451.30" r="1.5"/>
<circle cx="229.25" cy="450.10" r="1.5"/>
<circle cx="232.15" cy="452.10" r="1.5"/>
<circle cx="235.06" cy="452.50" r="1.5"/>
<circle cx="237.96" cy="452.70" r="1.5"/>
<circle cx="240.86" cy="451.30" r="1.5"/>
<circle cx="243.76" cy="451.50" r="1.5"/>
<circle cx="246.67" cy="448.30" r="1.5"/>
<circle cx="249.57" cy="451.00" r="1.5"/>
<circle cx="252.47" cy="451.30" r="1.5"/>
<circle cx="255.38" cy="450.60" r="1.5"/>
<circle cx="258.28" cy="453.28" r="1.5"/>
<circle cx="261.18" cy="455.04" r="1.5"/>
<circle cx="264.09" cy="452.12" r="1.5"/>
<circle cx="266.99" cy="455.04" r="1.5"/>
<circle cx="269.89" cy="452.12" r="1.5"/>
<circle cx="272.79" cy="451.77" r="1.5"/>
<circle cx="275.70" cy="453.05" r="1.5"/>
<circle cx="278.60" cy="453.87" r="1.5"/>
<circle cx="281.50" cy="453.87" r="1.5"/>
<circle cx="284.41" cy="454.80" r="1.5"/>
<circle cx="287.31" cy="455.04" r="1.5"/>
<circle cx="290.21" cy="455.62" r="1.5"/>
<circle cx="293.12" cy="450.95" r="1.5"/>
<circle cx="296.02" cy="453.87" r="1.5"/>
<circle cx="298.92" cy="454.80" r="1.5"/>
<circle cx="301.82" cy="455.04" r="1.5"/>
<circle cx="304.73" cy="455.04" r="1.5"/>
<circle cx="307.63" cy="455.04" r="1.5"/>
<circle cx="310.53" cy="452.12" r="1.5"/>
<circle cx="313.44" cy="453.87" r="1.5"/>
<circle cx="316.34" cy="454.45" r="1.5"/>
<circle cx="319.24" cy="453.87" r="1.5"/>
<circle cx="322.15" cy="455.04" r="1.5"/>
<circle cx="325.05" cy="456.00" r="1.5"/>
</g>
<clipPath id="c4"><rect x="390.80" y="255.00" width="292.70" height="202.10"/></clipPath>
<g clip-path="url(#c4)">
<path d="M395.43 325.26V341.34M392.16 333.30H398.70M402.70 317.31V333.89M399.43 325.60H405.97M409.97 315.66V332.34M406.70 324.00H413.24M417.24 337.56V352.84M413.97 345.20H420.51M424.50 320.30V336.70M421.23 328.50H427.77M431.77 334.25V349.75M428.50 342.00H435.04M439.04 344.08V358.92M435.77 351.50H442.31M446.31 331.56V347.24M443.04 339.40H449.58M453.57 330.11V345.89M450.30 338.00H456.84M460.84 331.15V346.85M457.57 339.00H464.11M468.11 324.74V340.86M464.84 332.80H471.38M475.38 324.12V340.28M472.11 332.20H478.65M482.64 303.70V321.10M479.37 312.40H485.91M489.91 317.93V334.47M486.64 326.20H493.18M497.18 302.78V320.22M493.91 311.50H500.45M504.45 284.76V303.24M501.18 294.00H507.72M511.71 304.32V321.68M508.44 313.00H514.98M518.98 296.91V314.69M515.71 305.80H522.25M526.25 290.11V308.29M522.98 299.20H529.52M533.52 294.02V311.98M530.25 303.00H536.79M540.78 284.76V303.24M537.51 294.00H544.05M548.05 293.51V311.49M544.78 302.50H551.32M555.32 297.01V314.79M552.05 305.90H558.59M562.59 308.65V325.75M559.32 317.20H565.86M569.85 265.14V284.66M566.58 274.90H573.12M577.12 289.60V307.80M573.85 298.70H580.39M584.39 276.74V295.66M581.12 286.20H587.66M591.66 273.97V293.03M588.39 283.50H594.93M598.92 280.75V299.45M595.65 290.10H602.19M606.19 293.10V311.10M602.92 302.10H609.46M613.46 280.75V299.45M610.19 290.10H616.73M620.73 308.03V325.17M617.46 316.60H624.00M627.99 293.10V311.10M624.72 302.10H631.26M635.26 293.51V311.49M631.99 302.50H638.53M642.53 292.79V310.81M639.26 301.80H645.80M649.80 302.36V319.84M646.53 311.10H653.07M657.06 281.47V300.13M653.79 290.80H660.33M664.33 279.62V298.38M661.06 289.00H667.60M671.60 274.89V293.91M668.33 284.40H674.87M678.87 266.27V285.73M675.60 276.00H682.14" stroke="#000" stroke-width="1.0" fill="none"/>
<path d="M391.80 319.30H399.07V330.00H406.34V332.00H413.60V333.70H420.87V332.80H428.14V339.20H435.41V335.70H442.67V334.40H449.94V334.00H457.21V328.50H464.48V331.50H471.74V324.00H479.01V319.80H486.28V317.40H493.55V315.20H500.81V308.60H508.08V315.90H515.35V313.70H522.62V306.90H529.88V305.90H537.15V301.40H544.42V296.90H551.68V295.30H558.95V295.30H566.22V302.50H573.49V291.20H580.75V298.00H588.02V296.90H595.29V295.30H602.56V298.00H609.83V302.50H617.09V300.30H624.36V305.20H631.63V303.70H638.89V296.90H646.16V296.40H653.43V291.20H660.70V293.90H667.97V290.10H675.23V287.10H682.50V456.50" stroke="#f00" stroke-width="1.1" fill="none"/>
<circle cx="395.43" cy="333.30" r="1.5"/>
<circle cx="402.70" cy="325.60" r="1.5"/>
<circle cx="409.97" cy="324.00" r="1.5"/>
<circle cx="417.24" cy="345.20" r="1.5"/>
<circle cx="424.50" cy="328.50" r="1.5"/>
<circle cx="431.77" cy="342.00" r="1.5"/>
<circle cx="439.04" cy="351.50" r="1.5"/>
<circle cx="446.31" cy="339.40" r="1.5"/>
<circle cx="453.57" cy="338.00" r="1.5"/>
<circle cx="460.84" cy="339.00" r="1.5"/>
<circle cx="468.11" cy="332.80" r="1.5"/>
<circle cx="475.38" cy="332.20" r="1.5"/>
<circle cx="482.64" cy="312.40" r="1.5"/>
<circle cx="489.91" cy="326.20" r="1.5"/>
<circle cx="497.18" cy="311.50" r="1.5"/>
<circle cx="504.45" cy="294.00" r="1.5"/>
<circle cx="511.71" cy="313.00" r="1.5"/>
<circle cx="518.98" cy="305.80" r="1.5"/>
<circle cx="526.25" cy="299.20" r="1.5"/>
<circle cx="533.52" cy="303.00" r="1.5"/>
<circle cx="540.78" cy="294.00" r="1.5"/>
<circle cx="548.05" cy="302.50" r="1.5"/>
<circle cx="555.32" cy="305.90" r="1.5"/>
<circle cx="562.59" cy="317.20" r="1.5"/>
<circle cx="569.85" cy="274.90" r="1.5"/>
<circle cx="577.12" cy="298.70" r="1.5"/>
<circle cx="584.39" cy="286.20" r="1.5"/>
<circle cx="591.66" cy="283.50" r="1.5"/>
<circle cx="598.92" cy="290.10" r="1.5"/>
<circle cx="606.19" cy="302.10" r="1.5"/>
<circle cx="613.46" cy="290.10" r="1.5"/>
<circle cx="620.73" cy="316.60" r="1.5"/>
<circle cx="627.99" cy="302.10" r="1.5"/>
<circle cx="635.26" cy="302.50" r="1.5"/>
<circle cx="642.53" cy="301.80" r="1.5"/>
<circle cx="649.80" cy="311.10" r="1.5"/>
<circle cx="657.06" cy="290.80" r="1.5"/>
<circle cx="664.33" cy="289.00" r="1.5"/>
<circle cx="671.60" cy="284.40" r="1.5"/>
<circle cx="678.87" cy="276.00" r="1.5"/>
</g>
<clipPath id="c5"><rect x="219.10" y="509.10" width="292.40" height="202.00"/></clipPath>
<g clip-path="url(#c5)">
<path d="M221.91 631.62V654.98M220.28 643.30H223.55M225.54 597.82V623.98M223.91 610.90H227.18M229.17 606.26V631.74M227.54 619.00H230.81M232.81 581.60V609.00M231.17 595.30H234.44M236.44 583.37V610.63M234.80 597.00H238.07M240.06 591.27V617.93M238.43 604.60H241.70M243.69 590.54V617.26M242.06 603.90H245.33M247.32 567.17V595.63M245.69 581.40H248.96M250.95 547.27V577.13M249.32 562.20H252.59M254.58 564.58V593.22M252.95 578.90H256.22M258.21 532.16V563.04M256.58 547.60H259.85M261.84 519.13V550.87M260.21 535.00H263.48M265.48 559.29V588.31M263.84 573.80H267.11M269.11 535.26V565.94M267.47 550.60H270.74M272.74 537.64V568.16M271.10 552.90H274.37M276.37 579.21V606.79M274.73 593.00H278.00M280.00 554.42V583.78M278.36 569.10H281.63M283.62 552.03V581.57M281.99 566.80H285.26M287.25 577.76V605.44M285.62 591.60H288.89M290.88 582.64V609.96M289.25 596.30H292.52M294.51 568.31V596.69M292.88 582.50H296.15M298.14 601.68V627.52M296.51 614.60H299.78M301.77 583.16V610.44M300.14 596.80H303.41M305.40 590.85V617.55M303.77 604.20H307.04M309.03 598.03V624.17M307.40 611.10H310.67M312.66 628.69V652.31M311.03 640.50H314.30M316.29 612.72V637.68M314.66 625.20H317.93M319.93 625.87V649.73M318.29 637.80H321.56M323.56 652.47V673.93M321.92 663.20H325.19M327.19 632.56V655.84M325.55 644.20H328.82M330.81 634.97V658.03M329.18 646.50H332.45M334.44 641.77V664.23M332.81 653.00H336.08M338.07 662.35V682.85M336.44 672.60H339.71M341.70 646.38V668.42M340.07 657.40H343.34M345.33 662.35V682.85M343.70 672.60H346.97M348.97 659.93V680.67M347.33 670.30H350.60M352.60 671.51V691.09M350.96 681.30H354.23M356.23 647.64V669.56M354.59 658.60H357.86M359.86 656.14V677.26M358.22 666.70H361.49M363.49 645.13V667.27M361.85 656.20H365.12M367.12 661.29V681.91M365.48 671.60H368.75M370.75 639.05V661.75M369.11 650.40H372.38M374.38 615.22V639.98M372.74 627.60H376.01M378.00 651.42V672.98M376.37 662.20H379.64M381.63 620.44V644.76M380.00 632.60H383.27M385.26 619.19V643.61M383.63 631.40H386.90M388.89 633.92V657.08M387.26 645.50H390.53M392.52 613.87V638.73M390.89 626.30H394.16M396.15 585.76V612.84M394.52 599.30H397.79M399.78 606.78V632.22M398.15 619.50H401.42M403.41 592.93V619.47M401.78 606.20H405.05M407.04 585.76V612.84M405.41 599.30H408.68M410.67 596.78V623.02M409.04 609.90H412.31M414.30 584.41V611.59M412.67 598.00H415.94M417.94 579.63V607.17M416.30 593.40H419.57M421.56 578.38V606.02M419.93 592.20H423.20M425.19 597.82V623.98M423.56 610.90H426.83M428.82 583.99V611.21M427.19 597.60H430.46M432.45 592.93V619.47M430.82 606.20H434.09M436.08 571.94V600.06M434.45 586.00H437.72M439.71 596.78V623.02M438.08 609.90H441.35M443.35 618.88V643.32M441.71 631.10H444.98M446.98 601.47V627.33M445.34 614.40H448.61M450.61 592.00V618.60M448.97 605.30H452.24M454.24 610.43V635.57M452.60 623.00H455.87M457.87 613.87V638.73M456.23 626.30H459.50M461.50 596.89V623.11M459.86 610.00H463.13M465.12 615.12V639.88M463.49 627.50H466.76M468.75 632.98V656.22M467.12 644.60H470.39M472.38 633.71V656.89M470.75 645.30H474.02M476.01 655.09V676.31M474.38 665.70H477.65M479.64 658.67V679.53M478.01 669.10H481.28M483.27 667.40V687.40M481.64 677.40H484.91M486.90 642.40V664.80M485.27 653.60H488.54M490.53 671.40V691.00M488.90 681.20H492.17M494.16 662.14V682.66M492.53 672.40H495.80M497.79 682.28V700.72M496.16 691.50H499.43M501.42 667.40V687.40M499.79 677.40H503.06M505.05 642.40V664.80M503.42 653.60H506.69M508.68 643.45V665.75M507.05 654.60H510.32" stroke="#000" stroke-width="1.0" fill="none"/>
<path d="M220.10 643.30H223.73V643.30H227.36V629.40H230.99V623.60H234.62V617.10H238.25V599.30H241.88V596.30H245.51V583.00H249.14V576.10H252.77V572.20H256.40V565.70H260.03V560.60H263.66V559.20H267.29V552.90H270.92V569.10H274.55V568.00H278.18V570.80H281.81V571.50H285.44V572.20H289.07V590.00H292.70V589.40H296.33V596.00H299.96V609.90H303.59V606.30H307.22V614.00H310.85V627.10H314.48V635.30H318.11V638.50H321.74V647.70H325.37V652.90H329.00V652.20H332.63V656.10H336.26V651.50H339.89V660.10H343.52V660.20H347.15V667.30H350.78V667.30H354.41V664.70H358.04V662.50H361.67V661.00H365.30V653.80H368.93V658.20H372.56V652.70H376.19V644.00H379.82V641.40H383.45V638.40H387.08V626.50H390.71V623.30H394.34V619.80H397.97V615.50H401.60V612.10H405.23V606.20H408.86V608.70H412.49V601.00H416.12V596.80H419.75V592.20H423.38V599.00H427.01V598.00H430.64V601.00H434.27V606.20H437.90V615.20H441.53V617.60H445.16V611.00H448.79V608.50H452.42V618.30H456.05V627.90H459.68V633.60H463.31V633.60H466.94V647.40H470.57V647.40H474.20V649.90H477.83V661.60H481.46V656.60H485.09V661.60H488.72V659.10H492.35V657.40H495.98V668.20H499.61V656.90H503.24V650.30H506.87V652.90H510.50" stroke="#f00" stroke-width="1.1" fill="none"/>
<circle cx="221.91" cy="643.30" r="1.5"/>
<circle cx="225.54" cy="610.90" r="1.5"/>
<circle cx="229.17" cy="619.00" r="1.5"/>
<circle cx="232.81" cy="595.30" r="1.5"/>
<circle cx="236.44" cy="597.00" r="1.5"/>
<circle cx="240.06" cy="604.60" r="1.5"/>
<circle cx="243.69" cy="603.90" r="1.5"/>
<circle cx="247.32" cy="581.40" r="1.5"/>
<circle cx="250.95" cy="562.20" r="1.5"/>
<circle cx="254.58" cy="578.90" r="1.5"/>
<circle cx="258.21" cy="547.60" r="1.5"/>
<circle cx="261.84" cy="535.00" r="1.5"/>
<circle cx="265.48" cy="573.80" r="1.5"/>
<circle cx="269.11" cy="550.60" r="1.5"/>
<circle cx="272.74" cy="552.90" r="1.5"/>
<circle cx="276.37" cy="593.00" r="1.5"/>
<circle cx="280.00" cy="569.10" r="1.5"/>
<circle cx="283.62" cy="566.80" r="1.5"/>
<circle cx="287.25" cy="591.60" r="1.5"/>
<circle cx="290.88" cy="596.30" r="1.5"/>
<circle cx="294.51" cy="582.50" r="1.5"/>
<circle cx="298.14" cy="614.60" r="1.5"/>
<circle cx="301.77" cy="596.80" r="1.5"/>
<circle cx="305.40" cy="604.20" r="1.5"/>
<circle cx="309.03" cy="611.10" r="1.5"/>
<circle cx="312.66" cy="640.50" r="1.5"/>
<circle cx="316.29" cy="625.20" r="1.5"/>
<circle cx="319.93" cy="637.80" r="1.5"/>
<circle cx="323.56" cy="663.20" r="1.5"/>
<circle cx="327.19" cy="644.20" r="1.5"/>
<circle cx="330.81" cy="646.50" r="1.5"/>
<circle cx="334.44" cy="653.00" r="1.5"/>
<circle cx="338.07" cy="672.60" r="1.5"/>
<circle cx="341.70" cy="657.40" r="1.5"/>
<circle cx="345.33" cy="672.60" r="1.5"/>
<circle cx="348.97" cy="670.30" r="1.5"/>
<circle cx="352.60" cy="681.30" r="1.5"/>
<circle cx="356.23" cy="658.60" r="1.5"/>
<circle cx="359.86" cy="666.70" r="1.5"/>
<circle cx="363.49" cy="656.20" r="1.5"/>
<circle cx="367.12" cy="671.60" r="1.5"/>
<circle cx="370.75" cy="650.40" r="1.5"/>
<circle cx="374.38" cy="627.60" r="1.5"/>
<circle cx="378.00" cy="662.20" r="1.5"/>
<circle cx="381.63" cy="632.60" r="1.5"/>
<circle cx="385.26" cy="631.40" r="1.5"/>
<circle cx="388.89" cy="645.50" r="1.5"/>
<circle cx="392.52" cy="626.30" r="1.5"/>
<circle cx="396.15" cy="599.30" r="1.5"/>
<circle cx="399.78" cy="619.50" r="1.5"/>
<circle cx="403.41" cy="606.20" r="1.5"/>
<circle cx="407.04" cy="599.30" r="1.5"/>
<circle cx="410.67" cy="609.90" r="1.5"/>
<circle cx="414.30" cy="598.00" r="1.5"/>
<circle cx="417.94" cy="593.40" r="1.5"/>
<circle cx="421.56" cy="592.20" r="1.5"/>
<circle cx="425.19" cy="610.90" r="1.5"/>
<circle cx="428.82" cy="597.60" r="1.5"/>
<circle cx="432.45" cy="606.20" r="1.5"/>
<circle cx="436.08" cy="586.00" r="1.5"/>
<circle cx="439.71" cy="609.90" r="1.5"/>
<circle cx="443.35" cy="631.10" r="1.5"/>
<circle cx="446.98" cy="614.40" r="1.5"/>
<circle cx="450.61" cy="605.30" r="1.5"/>
<circle cx="454.24" cy="623.00" r="1.5"/>
<circle cx="457.87" cy="626.30" r="1.5"/>
<circle cx="461.50" cy="610.00" r="1.5"/>
<circle cx="465.12" cy="627.50" r="1.5"/>
<circle cx="468.75" cy="644.60" r="1.5"/>
<circle cx="472.38" cy="645.30" r="1.5"/>
<circle cx="476.01" cy="665.70" r="1.5"/>
<circle cx="479.64" cy="669.10" r="1.5"/>
<circle cx="483.27" cy="677.40" r="1.5"/>
<circle cx="486.90" cy="653.60" r="1.5"/>
<circle cx="490.53" cy="681.20" r="1.5"/>
<circle cx="494.16" cy="672.40" r="1.5"/>
<circle cx="497.79" cy="691.50" r="1.5"/>
<circle cx="501.42" cy="677.40" r="1.5"/>
<circle cx="505.05" cy="653.60" r="1.5"/>
<circle cx="508.68" cy="654.60" r="1.5"/>
</g>
<g fill="#000" stroke="#000" stroke-width="0.12">
<text transform="translate(33.90,196.90) scale(0.95,1)" text-anchor="end" font-size="8.4">0</text>
<text transform="translate(33.90,168.35) scale(0.95,1)" text-anchor="end" font-size="8.4">1000</text>
<text transform="translate(33.90,139.80) scale(0.95,1)" text-anchor="end" font-size="8.4">2000</text>
<text transform="translate(33.90,111.25) scale(0.95,1)" text-anchor="end" font-size="8.4">3000</text>
<text transform="translate(33.90,82.70) scale(0.95,1)" text-anchor="end" font-size="8.4">4000</text>
<text transform="translate(33.90,54.15) scale(0.95,1)" text-anchor="end" font-size="8.4">5000</text>
<text transform="translate(33.90,25.60) scale(0.95,1)" text-anchor="end" font-size="8.4">6000</text>
<text transform="translate(50.02,211.45) scale(0.95,1)" text-anchor="middle" font-size="8.4">1</text>
<text transform="translate(84.58,211.45) scale(0.95,1)" text-anchor="middle" font-size="8.4">1.5</text>
<text transform="translate(119.14,211.45) scale(0.95,1)" text-anchor="middle" font-size="8.4">2</text>
<text transform="translate(153.70,211.45) scale(0.95,1)" text-anchor="middle" font-size="8.4">2.5</text>
<text transform="translate(188.26,211.45) scale(0.95,1)" text-anchor="middle" font-size="8.4">3</text>
<text transform="translate(222.82,211.45) scale(0.95,1)" text-anchor="middle" font-size="8.4">3.5</text>
<text transform="translate(257.38,211.45) scale(0.95,1)" text-anchor="middle" font-size="8.4">4</text>
<text transform="translate(291.94,211.45) scale(0.95,1)" text-anchor="middle" font-size="8.4">4.5</text>
<text transform="translate(326.50,211.45) scale(0.95,1)" text-anchor="middle" font-size="8.4">5</text>
<text transform="translate(389.60,205.95) scale(0.95,1)" text-anchor="end" font-size="8.4">0</text>
<text transform="translate(389.60,179.28) scale(0.95,1)" text-anchor="end" font-size="8.4">500</text>
<text transform="translate(389.60,152.62) scale(0.95,1)" text-anchor="end" font-size="8.4">1000</text>
<text transform="translate(389.60,125.95) scale(0.95,1)" text-anchor="end" font-size="8.4">1500</text>
<text transform="translate(389.60,99.29) scale(0.95,1)" text-anchor="end" font-size="8.4">2000</text>
<text transform="translate(389.60,72.62) scale(0.95,1)" text-anchor="end" font-size="8.4">2500</text>
<text transform="translate(389.60,45.96) scale(0.95,1)" text-anchor="end" font-size="8.4">3000</text>
<text transform="translate(389.60,19.29) scale(0.95,1)" text-anchor="end" font-size="8.4">3500</text>
<text transform="translate(416.12,211.40) scale(0.95,1)" text-anchor="middle" font-size="8.4">0.4</text>
<text transform="translate(464.55,211.40) scale(0.95,1)" text-anchor="middle" font-size="8.4">0.6</text>
<text transform="translate(512.98,211.40) scale(0.95,1)" text-anchor="middle" font-size="8.4">0.8</text>
<text transform="translate(561.42,211.40) scale(0.95,1)" text-anchor="middle" font-size="8.4">1</text>
<text transform="translate(609.85,211.40) scale(0.95,1)" text-anchor="middle" font-size="8.4">1.2</text>
<text transform="translate(658.28,211.40) scale(0.95,1)" text-anchor="middle" font-size="8.4">1.4</text>
<text transform="translate(33.90,459.70) scale(0.95,1)" text-anchor="end" font-size="8.4">0</text>
<text transform="translate(33.90,420.84) scale(0.95,1)" text-anchor="end" font-size="8.4">1000</text>
<text transform="translate(33.90,381.98) scale(0.95,1)" text-anchor="end" font-size="8.4">2000</text>
<text transform="translate(33.90,343.12) scale(0.95,1)" text-anchor="end" font-size="8.4">3000</text>
<text transform="translate(33.90,304.26) scale(0.95,1)" text-anchor="end" font-size="8.4">4000</text>
<text transform="translate(33.90,265.40) scale(0.95,1)" text-anchor="end" font-size="8.4">5000</text>
<text transform="translate(36.20,465.10) scale(0.95,1)" text-anchor="middle" font-size="8.4">0</text>
<text transform="translate(65.23,465.10) scale(0.95,1)" text-anchor="middle" font-size="8.4">0.2</text>
<text transform="translate(94.26,465.10) scale(0.95,1)" text-anchor="middle" font-size="8.4">0.4</text>
<text transform="translate(123.29,465.10) scale(0.95,1)" text-anchor="middle" font-size="8.4">0.6</text>
<text transform="translate(152.32,465.10) scale(0.95,1)" text-anchor="middle" font-size="8.4">0.8</text>
<text transform="translate(181.35,465.10) scale(0.95,1)" text-anchor="middle" font-size="8.4">1</text>
<text transform="translate(210.38,465.10) scale(0.95,1)" text-anchor="middle" font-size="8.4">1.2</text>
<text transform="translate(239.41,465.10) scale(0.95,1)" text-anchor="middle" font-size="8.4">1.4</text>
<text transform="translate(268.44,465.10) scale(0.95,1)" text-anchor="middle" font-size="8.4">1.6</text>
<text transform="translate(297.47,465.10) scale(0.95,1)" text-anchor="middle" font-size="8.4">1.8</text>
<text transform="translate(326.50,465.10) scale(0.95,1)" text-anchor="middle" font-size="8.4">2</text>
<text transform="translate(389.50,459.60) scale(0.95,1)" text-anchor="end" font-size="8.4">0</text>
<text transform="translate(389.50,430.44) scale(0.95,1)" text-anchor="end" font-size="8.4">500</text>
<text transform="translate(389.50,401.27) scale(0.95,1)" text-anchor="end" font-size="8.4">1000</text>
<text transform="translate(389.50,372.11) scale(0.95,1)" text-anchor="end" font-size="8.4">1500</text>
<text transform="translate(389.50,342.94) scale(0.95,1)" text-anchor="end" font-size="8.4">2000</text>
<text transform="translate(389.50,313.78) scale(0.95,1)" text-anchor="end" font-size="8.4">2500</text>
<text transform="translate(389.50,284.61) scale(0.95,1)" text-anchor="end" font-size="8.4">3000</text>
<text transform="translate(391.80,465.00) scale(0.95,1)" text-anchor="middle" font-size="8.4">−1</text>
<text transform="translate(420.87,465.00) scale(0.95,1)" text-anchor="middle" font-size="8.4">−0.8</text>
<text transform="translate(449.94,465.00) scale(0.95,1)" text-anchor="middle" font-size="8.4">−0.6</text>
<text transform="translate(479.01,465.00) scale(0.95,1)" text-anchor="middle" font-size="8.4">−0.4</text>
<text transform="translate(508.08,465.00) scale(0.95,1)" text-anchor="middle" font-size="8.4">−0.2</text>
<text transform="translate(537.15,465.00) scale(0.95,1)" text-anchor="middle" font-size="8.4">0</text>
<text transform="translate(566.22,465.00) scale(0.95,1)" text-anchor="middle" font-size="8.4">0.2</text>
<text transform="translate(595.29,465.00) scale(0.95,1)" text-anchor="middle" font-size="8.4">0.4</text>
<text transform="translate(624.36,465.00) scale(0.95,1)" text-anchor="middle" font-size="8.4">0.6</text>
<text transform="translate(653.43,465.00) scale(0.95,1)" text-anchor="middle" font-size="8.4">0.8</text>
<text transform="translate(682.50,465.00) scale(0.95,1)" text-anchor="middle" font-size="8.4">1</text>
<text transform="translate(217.80,703.10) scale(0.95,1)" text-anchor="end" font-size="8.4">600</text>
<text transform="translate(217.80,679.38) scale(0.95,1)" text-anchor="end" font-size="8.4">800</text>
<text transform="translate(217.80,655.67) scale(0.95,1)" text-anchor="end" font-size="8.4">1000</text>
<text transform="translate(217.80,631.96) scale(0.95,1)" text-anchor="end" font-size="8.4">1200</text>
<text transform="translate(217.80,608.25) scale(0.95,1)" text-anchor="end" font-size="8.4">1400</text>
<text transform="translate(217.80,584.54) scale(0.95,1)" text-anchor="end" font-size="8.4">1600</text>
<text transform="translate(217.80,560.82) scale(0.95,1)" text-anchor="end" font-size="8.4">1800</text>
<text transform="translate(217.80,537.11) scale(0.95,1)" text-anchor="end" font-size="8.4">2000</text>
<text transform="translate(217.80,513.40) scale(0.95,1)" text-anchor="end" font-size="8.4">2200</text>
<text transform="translate(226.64,718.80) scale(0.95,1)" text-anchor="middle" font-size="8.4">−3</text>
<text transform="translate(272.86,718.80) scale(0.95,1)" text-anchor="middle" font-size="8.4">−2</text>
<text transform="translate(319.08,718.80) scale(0.95,1)" text-anchor="middle" font-size="8.4">−1</text>
<text transform="translate(365.30,718.80) scale(0.95,1)" text-anchor="middle" font-size="8.4">0</text>
<text transform="translate(411.52,718.80) scale(0.95,1)" text-anchor="middle" font-size="8.4">1</text>
<text transform="translate(457.74,718.80) scale(0.95,1)" text-anchor="middle" font-size="8.4">2</text>
<text transform="translate(503.96,718.80) scale(0.95,1)" text-anchor="middle" font-size="8.4">3</text>
<text transform="translate(8.90,1.40) rotate(-90) scale(0.925,1)" text-anchor="end" font-size="9.55">Candidates / (0.04 GeV<tspan dy="-3.2" font-size="6.8">2</tspan><tspan dy="3.2">/c</tspan><tspan dy="-3.2" font-size="6.8">4</tspan><tspan dy="3.2">)</tspan></text>
<text transform="translate(364.60,1.30) rotate(-90) scale(0.925,1)" text-anchor="end" font-size="9.55">Candidates / (0.01 GeV<tspan dy="-3.2" font-size="6.8">2</tspan><tspan dy="3.2">/c</tspan><tspan dy="-3.2" font-size="6.8">4</tspan><tspan dy="3.2">)</tspan></text>
<text transform="translate(8.90,255.00) rotate(-90) scale(0.925,1)" text-anchor="end" font-size="9.55">Candidates / (0.02 GeV<tspan dy="-3.2" font-size="6.8">2</tspan><tspan dy="3.2">/c</tspan><tspan dy="-3.2" font-size="6.8">4</tspan><tspan dy="3.2">)</tspan></text>
<text transform="translate(363.60,255.00) rotate(-90) scale(0.925,1)" text-anchor="end" font-size="9.55">Candidates / (0.05)</text>
<text transform="translate(192.40,509.10) rotate(-90) scale(0.925,1)" text-anchor="end" font-size="9.55">Candidates / (0.08)</text>
<text x="326.50" y="224.00" text-anchor="end" font-size="10.2">m<tspan dy="-4.6" font-size="6.8">2</tspan><tspan dx="-3.8" dy="7.4" font-size="6.3">Kππ</tspan><tspan dy="-2.8"> [MeV</tspan><tspan dy="-5.0" font-size="6.8">2</tspan><tspan dy="5.0">/c</tspan><tspan dy="-5.0" font-size="6.8">4</tspan><tspan dy="5.0">]</tspan></text>
<text x="682.50" y="224.00" text-anchor="end" font-size="10.2">m<tspan dy="-4.6" font-size="6.8">2</tspan><tspan dx="-3.8" dy="7.4" font-size="6.8">Kπ</tspan><tspan dy="-2.8"> [MeV</tspan><tspan dy="-5.0" font-size="6.8">2</tspan><tspan dy="5.0">/c</tspan><tspan dy="-5.0" font-size="6.8">4</tspan><tspan dy="5.0">]</tspan></text>
<text x="326.50" y="478.20" text-anchor="end" font-size="10.2">m<tspan dy="-4.6" font-size="6.8">2</tspan><tspan dx="-3.8" dy="7.4" font-size="5.9">ππ</tspan><tspan dy="-2.8"> [MeV</tspan><tspan dy="-5.0" font-size="6.8">2</tspan><tspan dy="5.0">/c</tspan><tspan dy="-5.0" font-size="6.8">4</tspan><tspan dy="5.0">]</tspan></text>
<text x="682.50" y="477.60" text-anchor="end" font-size="10.2">cosθ</text>
<path d="M509.9 724.9L505.2 732.0M504.9 725.3Q505.9 724.5 506.6 725.6L509.9 732.0" stroke="#111" stroke-width="1.0" fill="none" stroke-linecap="round"/>
</g>
</g>
</svg></div></body></html>
